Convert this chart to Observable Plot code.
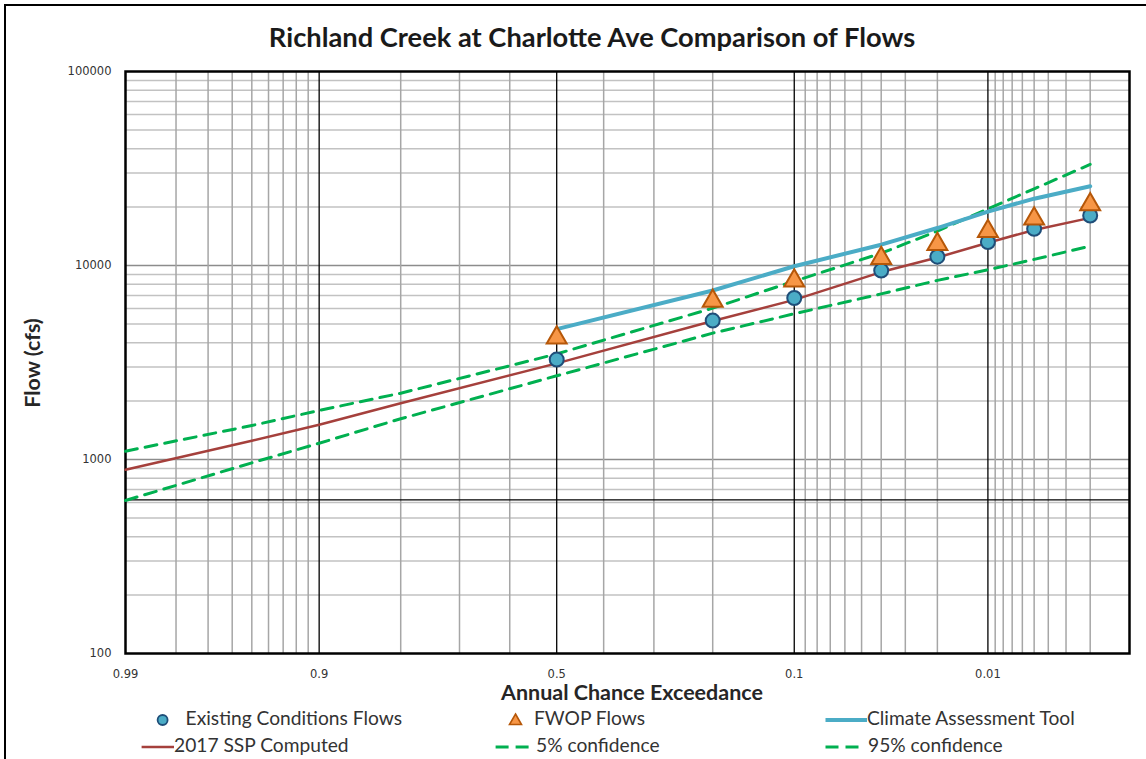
<!DOCTYPE html>
<html>
<head>
<meta charset="utf-8">
<script src="https://cdn.jsdelivr.net/npm/d3@7"></script>
<script src="https://cdn.jsdelivr.net/npm/@observablehq/plot@0.6"></script>
<style>
html,body{margin:0;padding:0;background:#fff;}
#wrap{position:relative;width:1146px;height:759px;overflow:hidden;background:#fff;}
#frame{position:absolute;left:4px;top:4px;width:1400px;height:1000px;border:2.5px solid #000;}
#chart{position:absolute;left:0;top:0;}
.t{position:absolute;white-space:nowrap;line-height:1;font-family:Lato,"Open Sans",sans-serif;color:#262626;}
.key{position:absolute;overflow:visible;}
</style>
</head>
<body>
<div id="wrap"><div id="frame"></div><div id="chart"></div></div>
<script>
// ---------------- data ----------------
const aep = [0.5, 0.2, 0.1, 0.04, 0.02, 0.01, 0.005, 0.002];
const existingFlows = [3275, 5200, 6800, 9420, 11100, 13200, 15450, 18100];
const fwopFlows = [4400, 6800, 8650, 11300, 13330, 15560, 18030, 21400];
const climateFlows = [4700, 7430, 9910, 12800, 15600, 18960, 22100, 25600];

const sspAep = [0.99, 0.95, 0.9, 0.8, 0.5, 0.2, 0.1, 0.04, 0.02, 0.01, 0.005, 0.002];
const sspComputed = [885, 1250, 1510, 1950, 3130, 5180, 6650, 9250, 11000, 13100, 15250, 17600];
const conf5 = [1104, 1496, 1790, 2197, 3500, 6030, 8300, 11570, 15040, 19590, 24840, 33200];
const conf95 = [615, 961, 1213, 1622, 2700, 4480, 5640, 7140, 8380, 9505, 10750, 12590];

const xTickAep = [0.99, 0.9, 0.5, 0.1, 0.01];
const xTickLabels = ["0.99", "0.9", "0.5", "0.1", "0.01"];
const yTicks = [100, 1000, 10000, 100000];
const xDomainAep = [0.99, 0.001];
const yDomain = [100, 100000];

const gridMinorAep = [0.98,0.97,0.96,0.95,0.94,0.93,0.92,0.91, 0.8,0.7,0.6,0.4,0.3,0.2,
  0.09,0.08,0.07,0.06,0.05,0.04,0.03,0.02, 0.009,0.008,0.007,0.006,0.005,0.004,0.003,0.002];
const gridMajorAep = [0.9, 0.5, 0.1, 0.01];
const gridMinorFlow = [200,300,400,500,600,700,800,900, 2000,3000,4000,5000,6000,7000,8000,9000,
  20000,30000,40000,50000,60000,70000,80000,90000];
const gridDecadeFlow = [1000, 10000];
const refFlow = [620];

const titleText = "Richland Creek at Charlotte Ave Comparison of Flows";
const xLabel = "Annual Chance Exceedance";
const yLabel = "Flow (cfs)";
const legendNames = ["Existing Conditions Flows", "FWOP Flows", "Climate Assessment Tool",
  "2017 SSP Computed", "5% confidence", "95% confidence"];

// ---------------- probability scale ----------------
function probit(p) {
  const a=[-3.969683028665376e+01,2.209460984245205e+02,-2.759285104469687e+02,1.383577518672690e+02,-3.066479806614716e+01,2.506628277459239e+00];
  const b=[-5.447609879822406e+01,1.615858368580409e+02,-1.556989798598866e+02,6.680131188771972e+01,-1.328068155288572e+01];
  const c=[-7.784894002430293e-03,-3.223964580411365e-01,-2.400758277161838e+00,-2.549732539343734e+00,4.374664141464968e+00,2.938163982698783e+00];
  const d=[7.784695709041462e-03,3.224671290700398e-01,2.445134137142996e+00,3.754408661907416e+00];
  const pl = 0.02425, ph = 1 - pl;
  let q, r;
  if (p < pl) { q = Math.sqrt(-2*Math.log(p)); return (((((c[0]*q+c[1])*q+c[2])*q+c[3])*q+c[4])*q+c[5])/((((d[0]*q+d[1])*q+d[2])*q+d[3])*q+1); }
  if (p <= ph) { q = p - 0.5; r = q*q; return (((((a[0]*r+a[1])*r+a[2])*r+a[3])*r+a[4])*r+a[5])*q/(((((b[0]*r+b[1])*r+b[2])*r+b[3])*r+b[4])*r+1); }
  q = Math.sqrt(-2*Math.log(1-p)); return -(((((c[0]*q+c[1])*q+c[2])*q+c[3])*q+c[4])*q+c[5])/((((d[0]*q+d[1])*q+d[2])*q+d[3])*q+1);
}
const zOf = p => -probit(p);

const pts = (ps, vs) => ps.map((p, i) => ({p, v: vs[i]}));
const existing = pts(aep, existingFlows);
const fwop = pts(aep, fwopFlows);
const climate = pts(aep, climateFlows);
const ssp = pts(sspAep, sspComputed);
const c5 = pts(sspAep, conf5);
const c95 = pts(sspAep, conf95);

const xTickZ = xTickAep.map(zOf);
const labelFor = v => { let bi = 0, bd = Infinity; xTickZ.forEach((z, i) => { const dd = Math.abs(z - v); if (dd < bd) { bd = dd; bi = i; } }); return xTickLabels[bi]; };

const C = {blue: "#4bacc6", blueEdge: "#1f4e79", orange: "#f79646", orangeEdge: "#b65708",
  red: "#a5403c", green: "#00b050"};

const px = d => zOf(d.p);
const py = d => d.v;

const chart = Plot.plot({
  width: 1146, height: 690,
  marginLeft: 125, marginRight: 17, marginTop: 71, marginBottom: 37,
  x: {type: "linear", domain: xDomainAep.map(zOf), axis: null, label: null},
  y: {type: "log", domain: yDomain, axis: null, label: null},
  style: {background: "transparent", fontFamily: "DejaVu Sans", fontSize: "11.5px", color: "#333"},
  marks: [
    Plot.ruleY(gridMinorFlow, {stroke: "#c2c2c2", strokeWidth: 1.5}),
    Plot.ruleY(gridDecadeFlow, {stroke: "#8c8c8c", strokeWidth: 1.5}),
    Plot.ruleX(gridMinorAep, {x: d => zOf(d), stroke: "#a6a6a6", strokeWidth: 1.5}),
    Plot.ruleX(gridMajorAep, {x: d => zOf(d), stroke: "#000", strokeWidth: 1.3}),
    Plot.ruleY(refFlow, {stroke: "#000", strokeWidth: 1.3}),
    Plot.frame({stroke: "#000", strokeWidth: 2.5}),
    Plot.line(c5, {x: px, y: py, stroke: C.green, strokeWidth: 3, strokeDasharray: "12,8"}),
    Plot.line(c95, {x: px, y: py, stroke: C.green, strokeWidth: 3, strokeDasharray: "12,8"}),
    Plot.line(ssp, {x: px, y: py, stroke: C.red, strokeWidth: 2.5}),
    Plot.line(climate, {x: px, y: py, stroke: C.blue, strokeWidth: 4}),
    Plot.dot(existing, {x: px, y: py, r: 7, fill: C.blue, stroke: C.blueEdge, strokeWidth: 2}),
    Plot.dot(fwop, {x: px, y: py, r: 7.4, symbol: "triangle", dy: 3, fill: C.orange, stroke: C.orangeEdge, strokeWidth: 2}),
    Plot.axisX(xTickZ, {tickSize: 0, tickPadding: 16, tickFormat: labelFor, fill: "#333", label: null}),
    Plot.axisY(yTicks, {tickSize: 0, tickPadding: 14, tickFormat: d => String(d), fill: "#333", label: null})
  ]
});
document.getElementById("chart").appendChild(chart);

// ---------------- texts ----------------
const wrap = document.getElementById("wrap");
const ctx = document.createElement("canvas").getContext("2d");
function fitSize(text, weight, target) {
  ctx.font = `${weight} 100px Lato`;
  return 100 * target / ctx.measureText(text).width;
}
// Lato: ascent 0.987, content height 1.2em -> baseline offset in a box of line-height L
const baseOff = L => (L - 1.2) / 2 + 0.987;
function addText(text, {x, base, weight = "normal", size, anchor = "start", color = "#262626", lh = 1}) {
  const el = document.createElement("div");
  el.className = "t";
  el.textContent = text;
  el.style.fontSize = size + "px";
  el.style.lineHeight = String(lh);
  el.style.fontWeight = weight;
  el.style.color = color;
  el.style.top = (base - baseOff(lh) * size) + "px";
  el.style.left = x + "px";
  if (anchor === "middle") el.style.transform = "translateX(-50%)";
  wrap.appendChild(el);
  return el;
}

const titleSize = fitSize(titleText, "bold", 648);
addText(titleText, {x: 592, base: 47, weight: "bold", size: titleSize, anchor: "middle", color: "#1a1a1a"});

const xlSize = fitSize(xLabel, "bold", 262);
addText(xLabel, {x: 632, base: 700, weight: "bold", size: xlSize, anchor: "middle", lh: 0.85});

const ylSize = fitSize(yLabel, "bold", 90);
{
  const el = document.createElement("div");
  el.className = "t";
  el.textContent = yLabel;
  el.style.fontSize = ylSize + "px";
  el.style.fontWeight = "bold";
  el.style.left = "33px";
  el.style.top = "363px";
  el.style.transform = "translate(-50%,-50%) rotate(-90deg)";
  wrap.appendChild(el);
}

// ---------------- legend ----------------
const legSize = fitSize(legendNames[2], "normal", 209);
const NS = "http://www.w3.org/2000/svg";
function keySvg(x, y, w, h, build) {
  const s = document.createElementNS(NS, "svg");
  s.setAttribute("class", "key");
  s.setAttribute("width", w); s.setAttribute("height", h);
  s.style.left = x + "px"; s.style.top = y + "px";
  build(s);
  wrap.appendChild(s);
}
function el(tag, attrs) { const e = document.createElementNS(NS, tag); for (const k in attrs) e.setAttribute(k, attrs[k]); return e; }

const row1 = 720, row2 = 747;
// Existing circle
keySvg(150, row1 - 10, 26, 20, s => s.appendChild(el("circle", {cx: 12.6, cy: 10, r: 5, fill: C.blue, stroke: C.blueEdge, "stroke-width": 1.8})));
addText(legendNames[0], {x: 185.6, base: 725, size: legSize, color: "#333"});
// FWOP triangle
keySvg(503, row1 - 10, 26, 20, s => s.appendChild(el("path", {d: "M12.5,4 L18.5,14.5 L6.5,14.5 Z", fill: C.orange, stroke: C.orangeEdge, "stroke-width": 1.6, "stroke-linejoin": "miter"})));
addText(legendNames[1], {x: 534, base: 725, size: legSize, color: "#333"});
// Climate line
keySvg(825, row1 - 10, 44, 20, s => s.appendChild(el("line", {x1: 0.5, y1: 10, x2: 42, y2: 10, stroke: C.blue, "stroke-width": 4})));
addText(legendNames[2], {x: 867, base: 725, size: legSize, color: "#333"});
// SSP line
keySvg(141, row2 - 10, 36, 20, s => s.appendChild(el("line", {x1: 0.6, y1: 10, x2: 33, y2: 10, stroke: C.red, "stroke-width": 2.5})));
addText(legendNames[3], {x: 174, base: 752, size: legSize, color: "#333"});
// 5% dashes
keySvg(495, row2 - 10, 40, 20, s => s.appendChild(el("line", {x1: 0.6, y1: 10, x2: 35, y2: 10, stroke: C.green, "stroke-width": 3, "stroke-dasharray": "13,7"})));
addText(legendNames[4], {x: 536, base: 752, size: legSize, color: "#333"});
// 95% dashes
keySvg(825, row2 - 10, 40, 20, s => s.appendChild(el("line", {x1: 0.5, y1: 10, x2: 35, y2: 10, stroke: C.green, "stroke-width": 3, "stroke-dasharray": "13,7"})));
addText(legendNames[5], {x: 868, base: 752, size: legSize, color: "#333"});
</script>
</body>
</html>
